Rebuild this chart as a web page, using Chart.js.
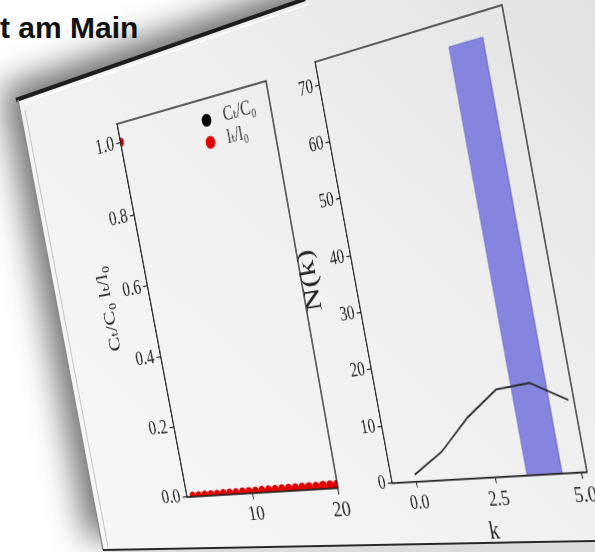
<!DOCTYPE html>
<html>
<head>
<meta charset="utf-8">
<script src="https://cdn.jsdelivr.net/npm/chart.js@4.4.0/dist/chart.umd.min.js"></script>
<style>
    html, body { margin: 0; padding: 0; }
    body { width: 595px; height: 552px; overflow: hidden; position: relative; background: #fff; }
    #slide { position: absolute; left: 0; top: 0; }
    .pageTitle {
        position: absolute; left: 0; top: 11px;
        font: bold 30px "Liberation Sans", Arial, sans-serif; color: #111;
    }
    canvas { position: absolute; left: 0; top: 0; transform-origin: 0 0; }
</style>
</head>
<body>
<svg id="slide" width="595" height="552">
    <defs>
        <linearGradient id="panelFill" x1="0" y1="1" x2="1" y2="0">
            <stop offset="0" stop-color="#f8f8f8"/>
            <stop offset="0.6" stop-color="#efefef"/>
            <stop offset="1" stop-color="#e2e2e2"/>
        </linearGradient>
        <filter id="soft" x="-30%" y="-30%" width="160%" height="160%">
            <feGaussianBlur stdDeviation="16"/>
        </filter>
    </defs>
    <polygon points="18,100 306,0 595,0 595,541 103,550" fill="#707070" filter="url(#soft)" transform="translate(-16,-12)"/>
    <polygon points="103,551 595,542 595,552 103,552" fill="#dcdcdc"/>
    <polygon points="18,100 306,0 595,0 595,541 103,550" fill="url(#panelFill)"/>
    <polyline points="16,100 305,-1" fill="none" stroke="#1e1e1e" stroke-width="4"/>
    <polyline points="20,104 309,4" fill="none" stroke="#ffffff" stroke-width="1.6"/>
    <polyline points="18,100 103,550" fill="none" stroke="#8a8a8a" stroke-width="1.4"/>
    <polyline points="25,110 108,547" fill="none" stroke="#c4c4c4" stroke-width="1"/>
    <polyline points="103,550 595,541" fill="none" stroke="#2a2a2a" stroke-width="2"/>
</svg>
<div class="pageTitle">t am Main</div>
<canvas id="ratioChart" width="300" height="460"></canvas>
<canvas id="spectrumChart" width="360" height="540"></canvas>
<script>
// left panel: ratios over time
const timeSteps = [1.6, 2.4, 3.2, 4.0, 4.8, 5.6, 6.4, 7.2, 8.0, 8.8, 9.6, 10.4,
                   11.2, 12.0, 12.8, 13.6, 14.4, 15.2, 16.0, 16.8, 17.6, 18.4, 19.2, 20.0];
const concRatio = [1.0, 0, 0, 0, 0, 0, 0, 0, 0, 0, 0, 0,
                   0, 0, 0, 0, 0, 0, 0, 0, 0, 0, 0, 0];
const lengthRatio = [1.0, 0.002, 0.002, 0.003, 0.003, 0.003, 0.004, 0.004, 0.004, 0.005, 0.005, 0.005,
                     0.006, 0.006, 0.006, 0.007, 0.007, 0.007, 0.008, 0.008, 0.008, 0.009, 0.009, 0.010];
const ratioYTicks = [0, 0.2, 0.4, 0.6, 0.8, 1.0];
const ratioXTicks = [10, 20];

// right panel: N(k)
const kValues = [0, 1, 2, 3, 4, 5];
const nValues = [1.2, 4.8, 10.2, 14.3, 14.8, 11.5];
const barEdges = [3.45, 4.45];
const barHeight = [70];
const kTicks = [0, 2.5, 5.0];
const nTicks = [0, 10, 20, 30, 40, 50, 60, 70];

// where each axes box sits in the (tilted) photo: TL, TR, BR, BL
const ratioQuad = [[117, 124], [266, 81], [338, 488], [187, 497]];
const spectrumQuad = [[315, 62], [502, 5], [587, 472], [392, 483]];

Chart.defaults.font.family = '"Liberation Serif", "DejaVu Serif", serif';
Chart.defaults.font.size = 21;
Chart.defaults.color = '#222';

// full box around the plot area, matplotlib style
const frameBox = {
    id: 'frameBox',
    afterDatasetsDraw(chart) {
        const { ctx, chartArea: a } = chart;
        ctx.save();
        ctx.strokeStyle = '#222';
        ctx.lineWidth = 1.4;
        ctx.strokeRect(a.left, a.top, a.right - a.left, a.bottom - a.top);
        ctx.restore();
    }
};

// legend with dots stacked in the upper right corner
const dotLegend = {
    id: 'dotLegend',
    afterDraw(chart) {
        const { ctx, chartArea } = chart;
        ctx.save();
        ctx.font = '18px "Liberation Serif", "DejaVu Serif", serif';
        ctx.textBaseline = 'middle';
        chart.data.datasets.forEach((ds, i) => {
            const x = chartArea.right - 78;
            const y = chartArea.top + 20 + i * 21;
            ctx.fillStyle = ds.backgroundColor;
            ctx.beginPath();
            ctx.arc(x, y, 6, 0, Math.PI * 2);
            ctx.fill();
            ctx.fillStyle = '#333';
            ctx.fillText(ds.label, x + 21, y);
        });
        ctx.restore();
    }
};

function axisStyle(ticks, fmt) {
    return {
        type: 'linear',
        afterBuildTicks: scale => { scale.ticks = ticks.map(v => ({ value: v })); },
        ticks: { callback: fmt, padding: 3, maxRotation: 0 },
        grid: { drawOnChartArea: false, drawTicks: true, tickLength: 6, color: '#222', lineWidth: 1.2 },
        border: { color: '#222', width: 1.4 }
    };
}

const ratioChart = new Chart(document.getElementById('ratioChart'), {
    type: 'scatter',
    data: {
        datasets: [{
            label: 'Cₜ/C₀',
            data: timeSteps.map((t, i) => ({ x: t, y: concRatio[i] })),
            backgroundColor: '#000000',
            pointRadius: 4.5,
            pointBorderWidth: 0,
            clip: 0,
            order: 1
        }, {
            label: 'lₜ/l₀',
            data: timeSteps.map((t, i) => ({ x: t, y: lengthRatio[i] })),
            backgroundColor: '#e00000',
            pointRadius: 4.5,
            pointBorderWidth: 0,
            clip: 0,
            order: 0
        }]
    },
    options: {
        responsive: false,
        animation: false,
        layout: { padding: { left: 8, top: 30, right: 25, bottom: 10 } },
        plugins: { legend: { display: false }, tooltip: { enabled: false } },
        scales: {
            x: Object.assign(axisStyle(ratioXTicks, v => v), { min: 1.6, max: 20 }),
            y: Object.assign(axisStyle(ratioYTicks, v => v.toFixed(1)), {
                min: 0, max: 1.05,
                // leading en spaces nudge the label up like in the photo
                title: { display: true, text: '\u2002\u2002Cₜ/C₀ lₜ/l₀', font: { size: 23 }, padding: { top: 0, bottom: 8 } }
            })
        }
    },
    plugins: [frameBox, dotLegend]
});

const spectrumChart = new Chart(document.getElementById('spectrumChart'), {
    type: 'line',
    data: {
        datasets: [{
            label: 'N(k)',
            data: kValues.map((k, i) => ({ x: k, y: nValues[i] })),
            borderColor: '#2b2b2b',
            borderWidth: 1.8,
            pointRadius: 0,
            tension: 0,
            fill: false,
            order: 0
        }, {
            label: 'band',
            data: [
                { x: barEdges[0], y: 0 }, { x: barEdges[0], y: barHeight[0] },
                { x: barEdges[1], y: barHeight[0] }, { x: barEdges[1], y: 0 }
            ],
            borderColor: '#6f6fd2',
            backgroundColor: '#8585e0',
            borderWidth: 1,
            pointRadius: 0,
            tension: 0,
            fill: 'origin',
            order: 1
        }]
    },
    options: {
        responsive: false,
        animation: false,
        layout: { padding: { left: 8, top: 30, right: 20, bottom: 10 } },
        plugins: { legend: { display: false }, tooltip: { enabled: false } },
        scales: {
            x: Object.assign(axisStyle(kTicks, v => v.toFixed(1)), {
                min: -0.8, max: 5.15,
                title: { display: true, text: 'k', font: { size: 26 }, padding: { top: 0, bottom: 0 } }
            }),
            y: Object.assign(axisStyle(nTicks, v => v), {
                min: 0, max: 74,
                title: { display: true, text: 'N(k)', font: { size: 34 }, padding: { top: 0, bottom: 10 } }
            })
        }
    },
    plugins: [frameBox]
});

// solve the 3x3 projective map that takes src corners onto dst corners
function solveHomography(src, dst) {
    const m = [];
    for (let i = 0; i < 4; i++) {
        const [x, y] = src[i], [u, v] = dst[i];
        m.push([x, y, 1, 0, 0, 0, -u * x, -u * y, u]);
        m.push([0, 0, 0, x, y, 1, -v * x, -v * y, v]);
    }
    for (let c = 0; c < 8; c++) {
        let p = c;
        for (let r = c + 1; r < 8; r++) if (Math.abs(m[r][c]) > Math.abs(m[p][c])) p = r;
        [m[c], m[p]] = [m[p], m[c]];
        for (let r = 0; r < 8; r++) {
            if (r === c) continue;
            const f = m[r][c] / m[c][c];
            for (let k = c; k < 9; k++) m[r][k] -= f * m[c][k];
        }
    }
    return m.map((row, i) => row[8] / row[i]);
}

function tilt(chart, quad) {
    const a = chart.chartArea;
    const src = [[a.left, a.top], [a.right, a.top], [a.right, a.bottom], [a.left, a.bottom]];
    const [h0, h1, h2, h3, h4, h5, h6, h7] = solveHomography(src, quad);
    chart.canvas.style.transform =
        `matrix3d(${h0},${h3},0,${h6},${h1},${h4},0,${h7},0,0,1,0,${h2},${h5},0,1)`;
}

tilt(ratioChart, ratioQuad);
tilt(spectrumChart, spectrumQuad);
</script>
</body>
</html>
